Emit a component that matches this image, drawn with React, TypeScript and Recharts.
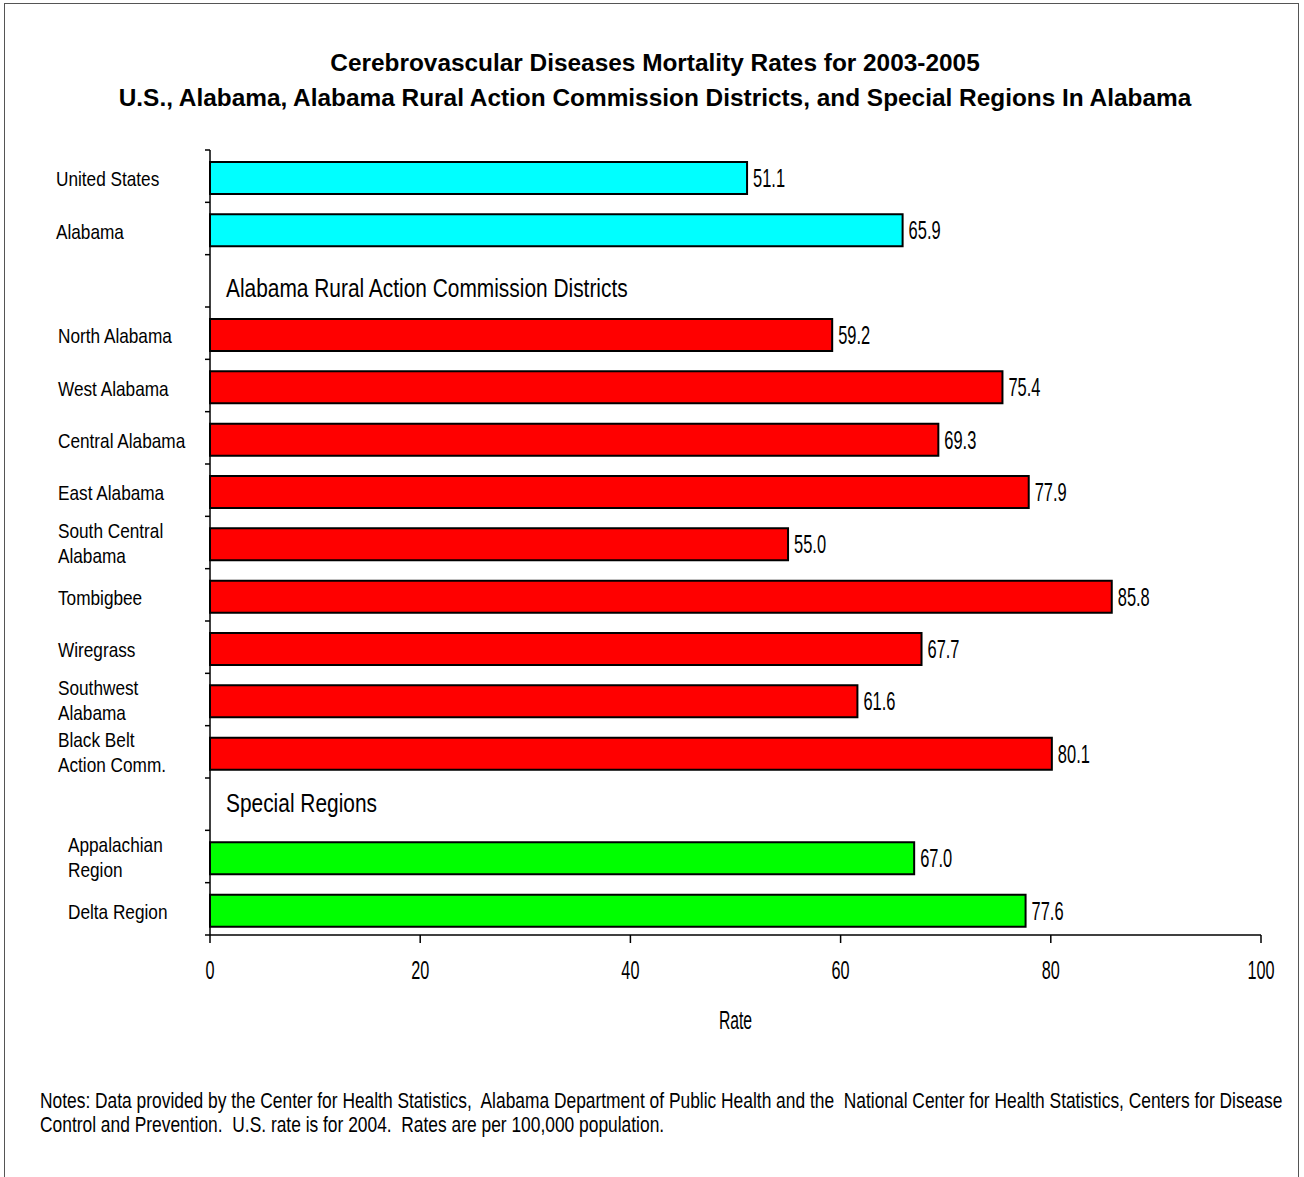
import React from "react";
import { BarChart, Bar, XAxis, YAxis, Cell, LabelList, Rectangle } from "recharts";

const categories = [
  "United States",
  "Alabama",
  "Alabama Rural Action Commission Districts",
  "North Alabama",
  "West Alabama",
  "Central Alabama",
  "East Alabama",
  "South Central\nAlabama",
  "Tombigbee",
  "Wiregrass",
  "Southwest\nAlabama",
  "Black Belt\nAction Comm.",
  "Special Regions",
  "Appalachian\nRegion",
  "Delta Region",
];
const rates: (number | null)[] = [51.1, 65.9, null, 59.2, 75.4, 69.3, 77.9, 55.0, 85.8, 67.7, 61.6, 80.1, null, 67.0, 77.6];
const groups = ["us", "us", "header", "district", "district", "district", "district", "district", "district", "district", "district", "district", "header", "special", "special"];
const xTicks = [0, 20, 40, 60, 80, 100];
const xTitle = "Rate";

const title1 = "Cerebrovascular Diseases Mortality Rates for 2003-2005";
const title2 = "U.S., Alabama, Alabama Rural Action Commission Districts, and Special Regions In Alabama";
const notes1 = "Notes: Data provided by the Center for Health Statistics,  Alabama Department of Public Health and the  National Center for Health Statistics, Centers for Disease";
const notes2 = "Control and Prevention.  U.S. rate is for 2004.  Rates are per 100,000 population.";

const groupColors: Record<string, string> = { us: "#00FFFF", district: "#FF0000", special: "#00FF00", header: "#FFFFFF" };

const data = categories.map((name, i) => ({ name, rate: rates[i], group: groups[i] }));

const FONT = "'Liberation Sans', Arial, sans-serif";
const PLOT_TOP = 150;
const PLOT_H = 785;
const BAND = PLOT_H / categories.length;
const BAR_SHIFT = 2;

const SText = ({ x, y, sx, size, anchor = "start", children }: any) => (
  <text
    transform={`translate(${x},${y}) scale(${sx},1)`}
    x={0}
    y={0}
    textAnchor={anchor}
    fontFamily={FONT}
    fontSize={size}
    fill="#000"
  >
    {children}
  </text>
);

const CatTick = (props: any) => {
  const { x, y, index } = props;
  const name: string = categories[index];
  const g = groups[index];
  const lines = name.split("\n");
  const bandTop = y - BAND / 2;
  const isLast = index === categories.length - 1;
  const tickMarks = (
    <g>
      <line x1={x - 5} x2={x} y1={bandTop} y2={bandTop} stroke="#000" strokeWidth={1.5} />
      {isLast && <line x1={x - 5} x2={x} y1={bandTop + BAND} y2={bandTop + BAND} stroke="#000" strokeWidth={1.5} />}
    </g>
  );
  if (g === "header") {
    const dy = index === 2 ? 16 : 7.5;
    return (
      <g>
        {tickMarks}
        <SText x={x + 16} y={y + dy} sx={0.82} size={25.5}>
          {name}
        </SText>
      </g>
    );
  }
  const indent = g === "us" ? 154 : g === "district" ? 152 : 142;
  const first = lines.length > 1 ? y - 5 : y + 10;
  return (
    <g>
      {tickMarks}
      {lines.map((l, k) => (
        <SText key={k} x={x - indent} y={first + k * 25} sx={0.82} size={21}>
          {l}
        </SText>
      ))}
    </g>
  );
};

const XTick = (props: any) => {
  const { x, y, payload } = props;
  return (
    <SText x={x} y={y + 36} sx={0.65} size={25} anchor="middle">
      {payload.value}
    </SText>
  );
};

const RateLabel = (props: any) => {
  const { viewBox } = props;
  return (
    <SText x={viewBox.x + viewBox.width / 2} y={viewBox.y + 94} sx={0.63} size={25} anchor="middle">
      {xTitle}
    </SText>
  );
};

const ValueLabel = (props: any) => {
  const { x, y, width, height, value } = props;
  if (value === null || value === undefined) return null;
  return (
    <SText x={x + width + 6} y={y + height / 2 + 9 + BAR_SHIFT} sx={0.645} size={25.5}>
      {Number(value).toFixed(1)}
    </SText>
  );
};

const ShiftedBar = (props: any) => <Rectangle {...props} y={props.y + BAR_SHIFT} />;

export default function App() {
  return (
    <div style={{ position: "absolute", left: 0, top: 0, width: 1304, height: 1177, background: "#fff", overflow: "hidden" }}>
      <div style={{ position: "absolute", left: 4, top: 3, width: 1295, height: 1200, border: "1.5px solid #555", boxSizing: "border-box" }} />
      <div
        style={{
          position: "absolute",
          left: 0,
          top: 45,
          width: 1310,
          textAlign: "center",
          fontFamily: FONT,
          fontWeight: "bold",
          fontSize: 24.4,
          lineHeight: "35px",
          color: "#000",
        }}
      >
        <div>{title1}</div>
        <div>{title2}</div>
      </div>
      <div style={{ position: "absolute", left: 0, top: 0 }}>
        <BarChart
          width={1304}
          height={1177}
          data={data}
          layout="vertical"
          margin={{ top: PLOT_TOP, right: 43, left: 10, bottom: 1177 - PLOT_TOP - PLOT_H - 40 }}
          barSize={32}
        >
          <XAxis
            type="number"
            domain={[0, 100]}
            ticks={xTicks}
            height={40}
            axisLine={{ stroke: "#000", strokeWidth: 1.5 }}
            tickLine={{ stroke: "#000", strokeWidth: 1.5 }}
            tickSize={8}
            tickMargin={0}
            tick={<XTick />}
            label={{ content: <RateLabel /> }}
          />
          <YAxis
            type="category"
            dataKey="name"
            width={200}
            interval={0}
            tickSize={0}
            tickMargin={0}
            tickLine={false}
            axisLine={{ stroke: "#000", strokeWidth: 1.5 }}
            tick={<CatTick />}
          />
          <Bar dataKey="rate" stroke="#000" strokeWidth={2} isAnimationActive={false} shape={<ShiftedBar />}>
            {data.map((d, i) => (
              <Cell key={i} fill={groupColors[d.group]} />
            ))}
            <LabelList dataKey="rate" content={<ValueLabel />} />
          </Bar>
        </BarChart>
      </div>
      <div
        style={{
          position: "absolute",
          left: 40,
          top: 1089,
          fontFamily: FONT,
          fontSize: 22,
          lineHeight: "24px",
          color: "#000",
          whiteSpace: "pre",
          transform: "scaleX(0.79)",
          transformOrigin: "0 0",
        }}
      >
        <div>{notes1}</div>
        <div>{notes2}</div>
      </div>
    </div>
  );
}
